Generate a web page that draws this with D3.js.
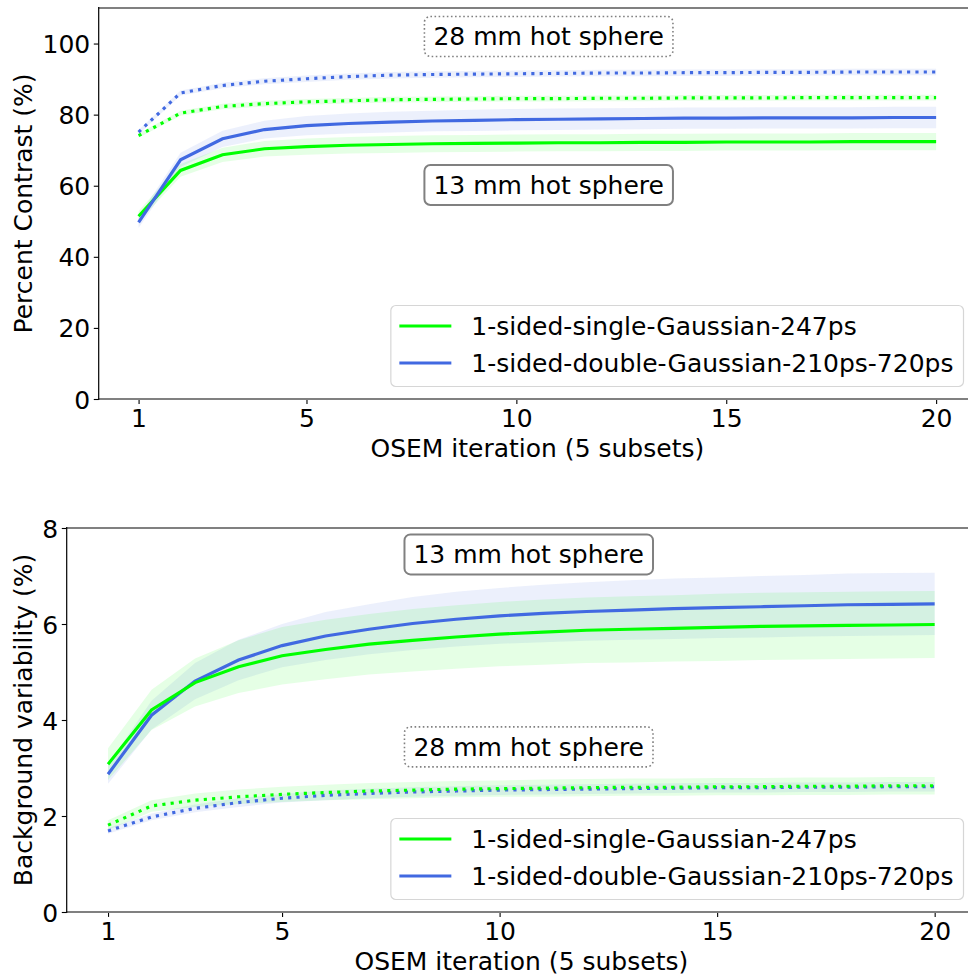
<!DOCTYPE html>
<html>
<head>
<meta charset="utf-8">
<script src="https://cdn.jsdelivr.net/npm/d3@7"></script>
<style>
  body { margin: 0; background: #fff; }
  text { font-family: "DejaVu Sans", sans-serif; }
</style>
</head>
<body>
<svg id="chart" width="968" height="976"></svg>
<script>
// OSEM iterations (5 subsets)
const iterations = [1, 2, 3, 4, 5, 6, 7, 8, 9, 10, 11, 12, 13, 14, 15, 16, 17, 18, 19, 20];
const xTickValues = [1, 5, 10, 15, 20];

// Percent contrast (%), 13 mm hot sphere (solid) and 28 mm hot sphere (dotted)
const pcSingle13 = [51.4, 64.3, 68.7, 70.4, 71.0, 71.4, 71.6, 71.8, 71.9, 72.0, 72.1, 72.1, 72.2, 72.2, 72.3, 72.3, 72.3, 72.4, 72.4, 72.4];
const pcSingle13Sd = [1.5, 1.8, 2.0, 2.2, 2.3, 2.3, 2.4, 2.4, 2.4, 2.4, 2.4, 2.4, 2.4, 2.4, 2.4, 2.4, 2.4, 2.4, 2.4, 2.4];
const pcDouble13 = [49.7, 67.3, 73.2, 75.8, 76.9, 77.5, 77.9, 78.2, 78.4, 78.6, 78.7, 78.8, 78.9, 79.0, 79.0, 79.1, 79.1, 79.1, 79.2, 79.2];
const pcDouble13Sd = [1.6, 2.0, 2.3, 2.5, 2.7, 2.8, 2.9, 2.9, 3.0, 3.0, 3.0, 3.0, 3.0, 3.0, 3.0, 3.0, 3.0, 3.0, 3.0, 3.0];
const pcSingle28 = [74.1, 80.4, 82.3, 83.1, 83.6, 83.9, 84.2, 84.3, 84.4, 84.5, 84.5, 84.6, 84.6, 84.7, 84.7, 84.7, 84.8, 84.8, 84.8, 84.8];
const pcSingle28Sd = [0.6, 0.7, 0.75, 0.8, 0.8, 0.8, 0.8, 0.8, 0.8, 0.8, 0.8, 0.8, 0.8, 0.8, 0.8, 0.8, 0.8, 0.8, 0.8, 0.8];
const pcDouble28 = [75.1, 86.1, 88.2, 89.4, 90.1, 90.7, 91.1, 91.3, 91.4, 91.5, 91.6, 91.7, 91.7, 91.8, 91.8, 91.9, 91.9, 92.0, 92.0, 92.0];
const pcDouble28Sd = [0.6, 0.7, 0.8, 0.85, 0.9, 0.9, 0.9, 0.9, 0.9, 0.9, 0.9, 0.9, 0.9, 0.9, 0.9, 0.9, 0.9, 0.9, 0.9, 0.9];
const pcTicks = [0, 20, 40, 60, 80, 100];

// Background variability (%)
const bvSingle13 = [3.08, 4.21, 4.78, 5.11, 5.34, 5.47, 5.58, 5.66, 5.73, 5.79, 5.83, 5.87, 5.89, 5.91, 5.93, 5.95, 5.96, 5.97, 5.98, 5.99];
const bvSingle13Sd = [0.33, 0.42, 0.50, 0.55, 0.60, 0.62, 0.63, 0.65, 0.66, 0.67, 0.68, 0.68, 0.69, 0.69, 0.70, 0.70, 0.70, 0.70, 0.70, 0.70];
const bvDouble13 = [2.87, 4.10, 4.81, 5.25, 5.55, 5.75, 5.89, 6.01, 6.10, 6.17, 6.22, 6.26, 6.29, 6.32, 6.34, 6.36, 6.38, 6.40, 6.41, 6.42];
const bvDouble13Sd = [0.20, 0.30, 0.38, 0.42, 0.45, 0.50, 0.52, 0.55, 0.57, 0.58, 0.60, 0.61, 0.62, 0.63, 0.63, 0.64, 0.64, 0.65, 0.65, 0.65];
const bvSingle28 = [1.81, 2.21, 2.33, 2.40, 2.45, 2.49, 2.52, 2.54, 2.56, 2.57, 2.58, 2.59, 2.60, 2.60, 2.61, 2.61, 2.62, 2.62, 2.63, 2.63];
const bvSingle28Sd = [0.10, 0.12, 0.14, 0.15, 0.16, 0.16, 0.17, 0.17, 0.17, 0.17, 0.18, 0.18, 0.18, 0.18, 0.18, 0.18, 0.18, 0.18, 0.18, 0.18];
const bvDouble28 = [1.69, 1.98, 2.16, 2.28, 2.37, 2.43, 2.47, 2.50, 2.52, 2.54, 2.55, 2.56, 2.57, 2.58, 2.59, 2.59, 2.60, 2.60, 2.61, 2.61];
const bvDouble28Sd = [0.06, 0.07, 0.08, 0.09, 0.09, 0.10, 0.10, 0.10, 0.10, 0.10, 0.10, 0.10, 0.10, 0.10, 0.10, 0.10, 0.10, 0.10, 0.10, 0.10];
const bvTicks = [0, 2, 4, 6, 8];

const legendLabels = ["1-sided-single-Gaussian-247ps", "1-sided-double-Gaussian-210ps-720ps"];
const seriesColors = ["#00ff00", "#4169e1"];

const FONT = 25;
const svg = d3.select("#chart");

function drawPanel(cfg) {
  const { left, right, top, bottom, yDomain, yTicks, yLabel, series, notes, id } = cfg;
  const x = d3.scaleLinear().domain([0.05, 20.95]).range([left, right]);
  const y = d3.scaleLinear().domain(yDomain).range([bottom, top]);
  const g = svg.append("g");

  svg.append("clipPath").attr("id", id)
    .append("rect").attr("x", left).attr("y", top).attr("width", right - left).attr("height", bottom - top);
  const plot = g.append("g").attr("clip-path", `url(#${id})`);

  // uncertainty bands
  series.forEach(s => {
    const area = d3.area()
      .x((d, i) => x(iterations[i]))
      .y0((d, i) => y(d - s.sd[i]))
      .y1((d, i) => y(d + s.sd[i]));
    plot.append("path").datum(s.values)
      .attr("d", area)
      .attr("fill", s.color).attr("fill-opacity", 0.1);
  });
  // mean curves
  series.forEach(s => {
    const line = d3.line().x((d, i) => x(iterations[i])).y(d => y(d));
    plot.append("path").datum(s.values)
      .attr("d", line)
      .attr("fill", "none")
      .attr("stroke", s.color)
      .attr("stroke-width", 3.15)
      .attr("stroke-dasharray", s.dotted ? "3.15,5.2" : null);
  });

  // axes
  const xAxis = g.append("g").attr("transform", `translate(0,${bottom})`)
    .call(d3.axisBottom(x).tickValues(xTickValues).tickSize(4.9).tickPadding(5).tickFormat(d3.format("d")));
  xAxis.select(".domain").remove();
  xAxis.selectAll(".tick line").attr("stroke", "#000").attr("stroke-width", 1.1);
  xAxis.selectAll(".tick text").attr("font-size", FONT).attr("fill", "#000")
    .attr("font-family", "DejaVu Sans").attr("dy", "0.73em");

  const yAxis = g.append("g").attr("transform", `translate(${left},0)`)
    .call(d3.axisLeft(y).tickValues(yTicks).tickSize(4.9).tickPadding(3.6));
  yAxis.select(".domain").remove();
  yAxis.selectAll(".tick line").attr("stroke", "#000").attr("stroke-width", 1.1);
  yAxis.selectAll(".tick text").attr("font-size", FONT).attr("fill", "#000")
    .attr("font-family", "DejaVu Sans").attr("dy", "0.36em");

  // spines
  g.append("line").attr("x1", left).attr("x2", right + 10).attr("y1", top).attr("y2", top)
    .attr("stroke", "#808080").attr("stroke-width", 2);
  g.append("line").attr("x1", left).attr("x2", right + 10).attr("y1", bottom).attr("y2", bottom)
    .attr("stroke", "#808080").attr("stroke-width", 2);
  g.append("line").attr("x1", left).attr("x2", left).attr("y1", top - 1).attr("y2", bottom + 1)
    .attr("stroke", "#000").attr("stroke-width", 1.2);

  // axis labels
  g.append("text").attr("x", (left + right) / 2).attr("y", bottom + 58)
    .attr("text-anchor", "middle").attr("font-size", FONT).attr("fill", "#000")
    .text("OSEM iteration (5 subsets)");
  g.append("text")
    .attr("transform", `translate(32,${(top + bottom) / 2}) rotate(-90)`)
    .attr("text-anchor", "middle").attr("font-size", FONT).attr("fill", "#000")
    .text(yLabel);

  // sphere annotations
  notes.forEach(n => {
    const ng = g.append("g");
    const t = ng.append("text").attr("x", x(n.x)).attr("y", y(n.y)).attr("dy", "0.36em")
      .attr("text-anchor", "middle").attr("font-size", FONT).attr("fill", "#000").text(n.text);
    const w = t.node().getComputedTextLength() + 18;
    const h = 40;
    ng.insert("rect", "text")
      .attr("x", x(n.x) - w / 2).attr("y", y(n.y) - h / 2)
      .attr("width", w).attr("height", h).attr("rx", 6).attr("ry", 6)
      .attr("fill", "#fff")
      .attr("stroke", "#808080")
      .attr("stroke-width", n.dotted ? 1.6 : 2)
      .attr("stroke-dasharray", n.dotted ? "1.6,2.5" : null);
  });

  // legend (lower right)
  const lg = g.append("g");
  const texts = legendLabels.map((lab, i) => lg.append("text")
    .attr("font-size", FONT).attr("fill", "#000").attr("dy", "0.36em").text(lab));
  const textW = d3.max(texts, t => t.node().getComputedTextLength());
  const lw = 8.5 + 52 + 20 + textW + 10;
  const lh = 81;
  const lx = right - 12.5 - lw;
  const ly = bottom - 12.5 - lh;
  lg.insert("rect", "text").attr("x", lx).attr("y", ly).attr("width", lw).attr("height", lh)
    .attr("rx", 5).attr("ry", 5).attr("fill", "#fff").attr("fill-opacity", 0.8)
    .attr("stroke", "#d6d6d6").attr("stroke-width", 1.2);
  texts.forEach((t, i) => {
    const cy = ly + 20.5 + i * 37;
    t.attr("x", lx + 80.5).attr("y", cy);
    lg.append("line").attr("x1", lx + 8.5).attr("x2", lx + 60.5).attr("y1", cy).attr("y2", cy)
      .attr("stroke", seriesColors[i]).attr("stroke-width", 3.15);
  });
}

drawPanel({
  id: "clipTop", left: 98.7, right: 976, top: 8, bottom: 399,
  yDomain: [0, 110], yTicks: pcTicks, yLabel: "Percent Contrast (%)",
  series: [
    { values: pcSingle13, sd: pcSingle13Sd, color: seriesColors[0], dotted: false },
    { values: pcSingle28, sd: pcSingle28Sd, color: seriesColors[0], dotted: true },
    { values: pcDouble13, sd: pcDouble13Sd, color: seriesColors[1], dotted: false },
    { values: pcDouble28, sd: pcDouble28Sd, color: seriesColors[1], dotted: true }
  ],
  notes: [
    { text: "28 mm hot sphere", x: 10.77, y: 102.0, dotted: true },
    { text: "13 mm hot sphere", x: 10.77, y: 60.2, dotted: false }
  ]
});

drawPanel({
  id: "clipBottom", left: 66.7, right: 976, top: 528, bottom: 912,
  yDomain: [0, 8], yTicks: bvTicks, yLabel: "Background variability (%)",
  series: [
    { values: bvDouble13, sd: bvDouble13Sd, color: seriesColors[1], dotted: false },
    { values: bvDouble28, sd: bvDouble28Sd, color: seriesColors[1], dotted: true },
    { values: bvSingle13, sd: bvSingle13Sd, color: seriesColors[0], dotted: false },
    { values: bvSingle28, sd: bvSingle28Sd, color: seriesColors[0], dotted: true }
  ],
  notes: [
    { text: "13 mm hot sphere", x: 10.67, y: 7.45, dotted: false },
    { text: "28 mm hot sphere", x: 10.67, y: 3.44, dotted: true }
  ]
});
</script>
</body>
</html>
